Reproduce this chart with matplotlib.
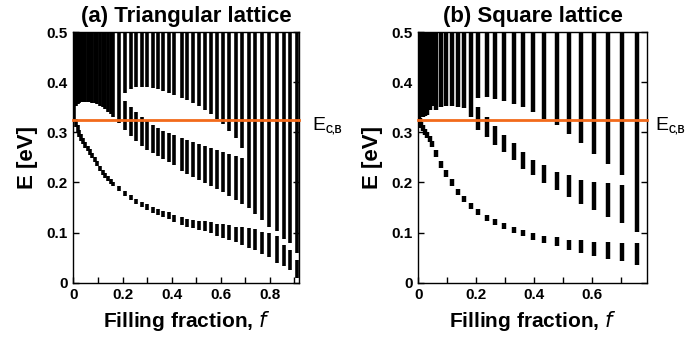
import numpy as np
import matplotlib
matplotlib.use('Agg')
import matplotlib.pyplot as plt
from matplotlib.ticker import MultipleLocator, FuncFormatter

plt.rcParams['font.family'] = ['Liberation Sans', 'DejaVu Sans']
plt.rcParams['mathtext.default'] = 'regular'

# ---- (a) triangular lattice: band edges per filling fraction ----
f_tri = [0.004, 0.010, 0.017, 0.024, 0.032, 0.040, 0.049, 0.058, 0.067, 0.077,
         0.087, 0.097, 0.108, 0.119, 0.130, 0.141, 0.152, 0.163, 0.187, 0.210,
         0.233, 0.256, 0.278, 0.301, 0.323, 0.344, 0.367, 0.390, 0.412, 0.442,
         0.464, 0.489, 0.514, 0.538, 0.561, 0.584, 0.609, 0.635, 0.662, 0.688,
         0.715, 0.741, 0.768, 0.799, 0.829, 0.859, 0.884, 0.913]
tri_b1_lo = [0.320, 0.310, 0.300, 0.291, 0.283, 0.276, 0.269, 0.262, 0.255, 0.248,
             0.240, 0.232, 0.223, 0.215, 0.209, 0.203, 0.197, 0.192, 0.182, 0.173,
             0.164, 0.156, 0.150, 0.144, 0.139, 0.135, 0.131, 0.127, 0.122, 0.115,
             0.112, 0.109, 0.106, 0.103, 0.099, 0.093, 0.089, 0.086, 0.081, 0.076,
             0.069, 0.066, 0.058, 0.051, 0.040, 0.033, 0.026, 0.010]
tri_b1_hi = [0.345, 0.326, 0.314, 0.304, 0.296, 0.288, 0.280, 0.273, 0.266, 0.258,
             0.250, 0.242, 0.233, 0.225, 0.218, 0.212, 0.206, 0.201, 0.192, 0.183,
             0.174, 0.167, 0.161, 0.156, 0.151, 0.147, 0.143, 0.140, 0.136, 0.131,
             0.128, 0.126, 0.124, 0.123, 0.121, 0.118, 0.117, 0.115, 0.112, 0.111,
             0.109, 0.107, 0.102, 0.099, 0.093, 0.076, 0.066, 0.046]
tri_b2_lo = [0.345, 0.352, 0.356, 0.358, 0.360, 0.360, 0.360, 0.360, 0.360, 0.359,
             0.358, 0.356, 0.353, 0.350, 0.346, 0.341, 0.336, 0.331, 0.318, 0.305,
             0.293, 0.282, 0.273, 0.265, 0.259, 0.253, 0.247, 0.241, 0.234, 0.222,
             0.216, 0.210, 0.204, 0.199, 0.193, 0.186, 0.180, 0.172, 0.165, 0.157,
             0.148, 0.138, 0.125, 0.112, 0.103, 0.088, 0.080, 0.060]
# upper gap (white lens) edges, nan where there is no gap
tri_gap_lo = [np.nan] * 19 + [0.362, 0.350, 0.340, 0.331, 0.322, 0.315, 0.309, 0.303,
              0.298, 0.294, 0.288, 0.284, 0.280, 0.276, 0.272, 0.268, 0.264,
              0.260, 0.256, 0.252, 0.249] + [np.nan] * 8
tri_gap_hi = [np.nan] * 19 + [0.378, 0.386, 0.390, 0.391, 0.390, 0.388, 0.386, 0.383,
              0.379, 0.375, 0.369, 0.364, 0.358, 0.352, 0.344, 0.336, 0.327,
              0.316, 0.303, 0.288, 0.268] + [np.nan] * 8

# ---- (b) square lattice ----
f_sq = [0.002, 0.006, 0.011, 0.017, 0.024, 0.031, 0.039, 0.048, 0.060, 0.079,
        0.097, 0.116, 0.136, 0.158, 0.182, 0.208, 0.236, 0.265, 0.296, 0.330,
        0.363, 0.398, 0.436, 0.478, 0.520, 0.562, 0.607, 0.657, 0.704, 0.756]
sq_b1_lo = [0.318, 0.314, 0.309, 0.302, 0.295, 0.288, 0.280, 0.271, 0.250, 0.229,
            0.210, 0.192, 0.175, 0.160, 0.146, 0.135, 0.124, 0.116, 0.107, 0.099,
            0.093, 0.086, 0.079, 0.073, 0.066, 0.060, 0.053, 0.048, 0.043, 0.035]
sq_b1_hi = [0.335, 0.328, 0.321, 0.314, 0.307, 0.300, 0.292, 0.283, 0.264, 0.243,
            0.224, 0.206, 0.187, 0.172, 0.158, 0.147, 0.136, 0.128, 0.119, 0.111,
            0.105, 0.100, 0.094, 0.091, 0.086, 0.085, 0.082, 0.082, 0.080, 0.080]
sq_b2_lo = [np.nan] * 15 + [0.305, 0.290, 0.275, 0.260, 0.244, 0.227, 0.214, 0.199,
            0.184, 0.171, 0.156, 0.145, 0.131, 0.119, np.nan]
sq_b2_hi = [np.nan] * 15 + [0.350, 0.330, 0.312, 0.295, 0.278, 0.260, 0.245, 0.234,
            0.221, 0.214, 0.204, 0.201, 0.198, 0.194, np.nan]
sq_b3_lo = [0.335, 0.330, 0.330, 0.330, 0.332, 0.335, 0.345, 0.352, 0.345, 0.350,
            0.352, 0.352, 0.350, 0.348, 0.330, 0.368, 0.370, 0.366, 0.362, 0.356,
            0.350, 0.341, 0.327, 0.314, 0.296, 0.278, 0.257, 0.236, 0.214, 0.101]

E_cb = 0.325
E_top = 0.5

fig = plt.figure(figsize=(6.88, 3.49), dpi=100)
ax1 = fig.add_axes([0.1068, 0.19, 0.3285, 0.7183])
ax2 = fig.add_axes([0.608, 0.19, 0.3324, 0.7183])

# triangular
f = np.array(f_tri)
ax1.vlines(f, tri_b1_lo, tri_b1_hi, colors='k', lw=2.6)
lens_lo = np.array(tri_gap_lo)
lens_hi = np.array(tri_gap_hi)
has = ~np.isnan(lens_lo)
ax1.vlines(f[~has], np.array(tri_b2_lo)[~has], E_top, colors='k', lw=2.6)
ax1.vlines(f[has], np.array(tri_b2_lo)[has], lens_lo[has], colors='k', lw=2.6)
ax1.vlines(f[has], lens_hi[has], E_top, colors='k', lw=2.6)

# square
g = np.array(f_sq)
ax2.vlines(g, sq_b1_lo, sq_b1_hi, colors='k', lw=3.2)
ax2.vlines(g, sq_b2_lo, sq_b2_hi, colors='k', lw=3.2)
ax2.vlines(g, sq_b3_lo, E_top, colors='k', lw=3.2)

fmt = FuncFormatter(lambda v, p: '0' if abs(v) < 1e-9 else '%.1f' % v)
for ax, xmax, title, dx in [(ax1, 0.922, '(a) Triangular lattice', 9),
                            (ax2, 0.791, '(b) Square lattice', 6)]:
    ax.axhline(E_cb, color='#f26a1b', lw=2.0, zorder=5, clip_on=False)
    ytr = ax.get_yaxis_transform()
    ax.annotate('E', xy=(1, E_cb), xycoords=ytr, xytext=(dx, -4),
                textcoords='offset points', fontsize=14, va='center', ha='left')
    ax.annotate('C,B', xy=(1, E_cb), xycoords=ytr, xytext=(dx + 9.5, -7),
                textcoords='offset points', fontsize=7, fontweight='bold',
                va='center', ha='left')
    ax.set_xlim(0, xmax)
    ax.set_ylim(0, 0.5)
    ax.xaxis.set_major_locator(MultipleLocator(0.2))
    ax.xaxis.set_minor_locator(MultipleLocator(0.1))
    ax.yaxis.set_major_locator(MultipleLocator(0.1))
    ax.xaxis.set_major_formatter(fmt)
    ax.yaxis.set_major_formatter(fmt)
    ax.tick_params(which='both', direction='in', length=4, width=1,
                   right=True, labelsize=11, pad=4)
    for lab in ax.get_xticklabels() + ax.get_yticklabels():
        lab.set_fontweight('bold')
    for s in ax.spines.values():
        s.set_linewidth(1.0)
    ax.set_title(title, fontsize=16, fontweight='bold', pad=7)
    ax.set_xlabel('Filling fraction, $\\mathbf{\\mathit{f}}$', fontsize=15,
                  fontweight='bold', labelpad=5)
    ax.set_ylabel('E [eV]', fontsize=16, fontweight='bold', labelpad=6)

fig.savefig('out.png', dpi=100)
